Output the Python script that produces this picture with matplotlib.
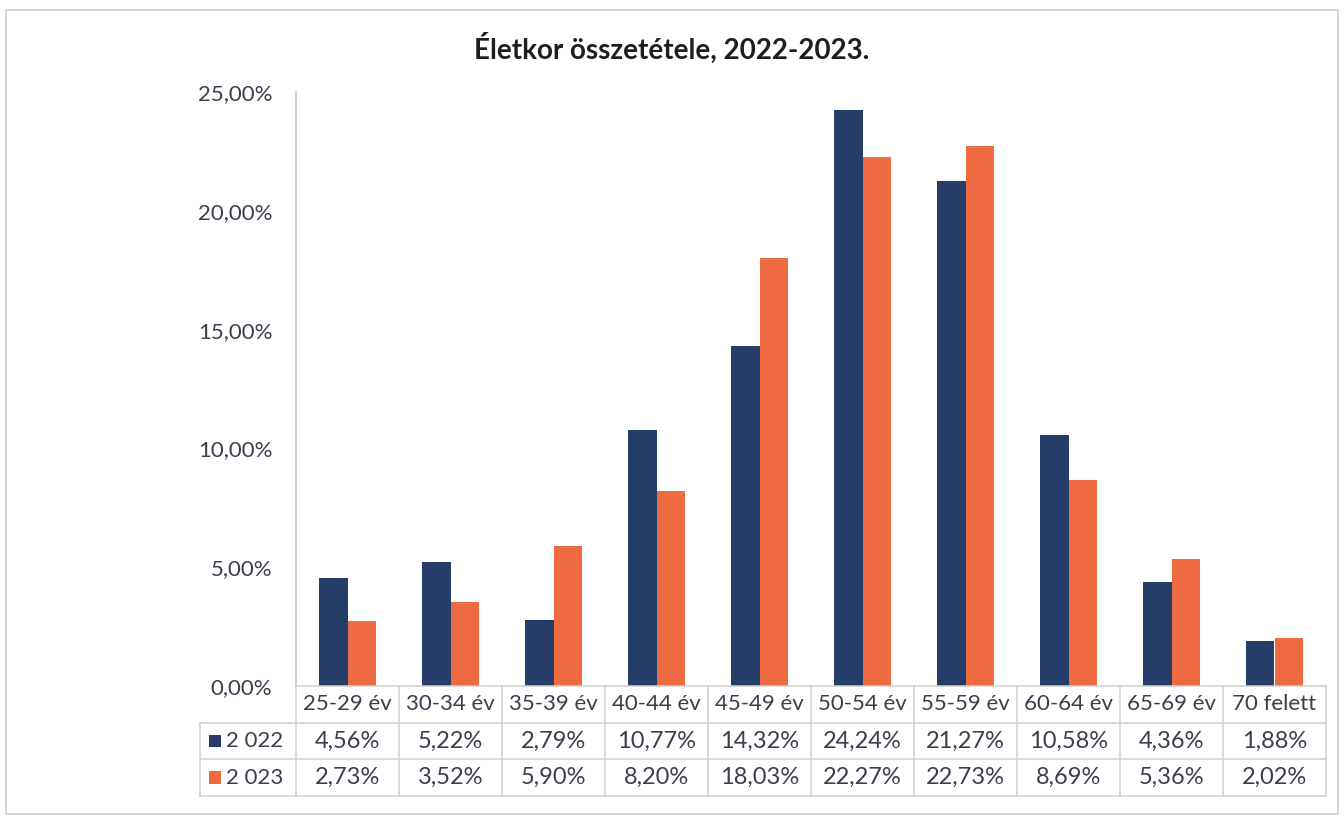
import matplotlib
matplotlib.use("Agg")
import matplotlib.pyplot as plt
from matplotlib.patches import Rectangle

plt.rcParams['font.family'] = ['Lato', 'DejaVu Sans']

categories = ["25-29 év", "30-34 év", "35-39 év", "40-44 év", "45-49 év",
              "50-54 év", "55-59 év", "60-64 év", "65-69 év", "70 felett"]
series_names = ["2 022", "2 023"]
values_2022 = [4.56, 5.22, 2.79, 10.77, 14.32, 24.24, 21.27, 10.58, 4.36, 1.88]
values_2023 = [2.73, 3.52, 5.90, 8.20, 18.03, 22.27, 22.73, 8.69, 5.36, 2.02]
yticks = [0, 5, 10, 15, 20, 25]
title = "Életkor összetétele, 2022-2023."

NAVY = "#263d69"
ORANGE = "#ee6a40"
TEXT = "#3d3d4d"
GRID = "#cfcfcf"

W, H = 1344, 818
fig = plt.figure(figsize=(W / 100, H / 100), dpi=100)

def px_rect(x0, y0, x1, y1):
    return [x0 / W, 1 - y1 / H, (x1 - x0) / W, (y1 - y0) / H]

# outer chart frame
fig.patches.append(Rectangle((6 / W, 4 / H), (1338 - 6) / W, (808 - 4) / H,
                             transform=fig.transFigure, fill=False,
                             edgecolor="#d0d0d0", linewidth=1.2))

fig.text(0.5, 1 - 48 / H, title, ha="center", va="center",
         fontsize=20, fontweight="bold", color="#1e1e1e")

# bar plot area
ax = fig.add_axes(px_rect(296, 92, 1326, 686))
n = len(categories)
xs = list(range(n))
bw = 0.28
ax.bar([x - bw / 2 for x in xs], values_2022, width=bw, color=NAVY, label=series_names[0])
ax.bar([x + bw / 2 for x in xs], values_2023, width=bw, color=ORANGE, label=series_names[1])
ax.set_xlim(-0.5, n - 0.5)
ax.set_ylim(0, 25)
ax.set_yticks(yticks)
ax.set_yticklabels([f"{v:.2f}".replace(".", ",") + "%" for v in yticks],
                   fontsize=16, color=TEXT)
ax.tick_params(axis="y", length=0, pad=17)
ax.set_xticks([])
for s in ["top", "right", "bottom"]:
    ax.spines[s].set_visible(False)
ax.spines["left"].set_color("#c8c8c8")
ax.spines["left"].set_linewidth(1.2)

# data table below the bars
unit = (1326 - 296) / n
left_px = 200
tx0 = -0.5 - (296 - left_px) / unit
tab = fig.add_axes(px_rect(left_px, 686, 1326, 796))
tab.set_xlim(tx0, n - 0.5)
tab.set_ylim(3, 0)
tab.axis("off")

lk = dict(color=GRID, linewidth=1.1, clip_on=False)
# horizontal lines
tab.plot([-0.5, n - 0.5], [0, 0], **lk)
for yy in [1, 2, 3]:
    tab.plot([tx0, n - 0.5], [yy, yy], **lk)
# vertical lines
for i in range(n + 1):
    tab.plot([i - 0.5, i - 0.5], [0, 3], **lk)
tab.plot([tx0, tx0], [1, 3], **lk)

for i, c in enumerate(categories):
    tab.text(i, 0.5, c, ha="center", va="center", fontsize=16, color=TEXT)
for r, (vals, name, col) in enumerate([(values_2022, series_names[0], NAVY),
                                       (values_2023, series_names[1], ORANGE)]):
    yy = 1.5 + r
    for i, v in enumerate(vals):
        tab.text(i, yy, f"{v:.2f}".replace(".", ",") + "%", ha="center",
                 va="center", fontsize=17, color=TEXT)
    tab.add_patch(Rectangle((tx0 + 0.09, yy - 0.17), 0.11, 0.34,
                            facecolor=col, edgecolor="none"))
    tab.text(tx0 + 0.25, yy, name, ha="left", va="center", fontsize=16, color=TEXT)

fig.savefig("out.png", dpi=100, facecolor="white")
